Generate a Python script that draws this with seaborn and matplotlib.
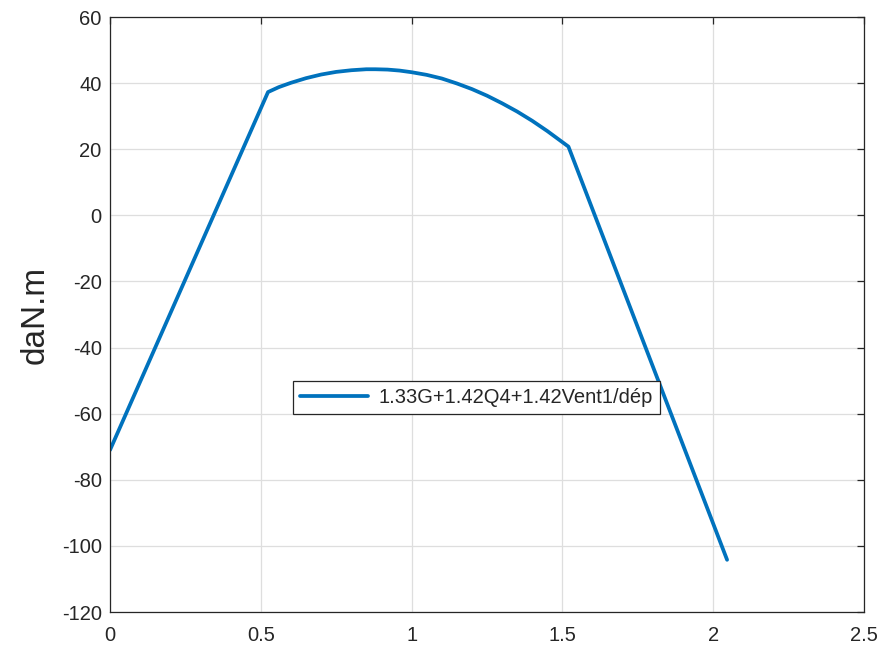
import numpy as np
import pandas as pd
import matplotlib
matplotlib.use("Agg")
import matplotlib.pyplot as plt
import seaborn as sns

# valeurs
abscisse = [0.0, 0.524, 0.56, 0.60, 0.65, 0.70, 0.75, 0.80, 0.85, 0.88, 0.92,
            0.96, 1.00, 1.05, 1.10, 1.15, 1.20, 1.25, 1.30, 1.35, 1.40, 1.45,
            1.52, 2.046]
moment = [-71.0, 37.3, 38.8, 40.1, 41.5, 42.6, 43.4, 43.9, 44.2, 44.2, 44.1,
          43.8, 43.3, 42.5, 41.4, 39.9, 38.2, 36.2, 33.9, 31.4, 28.6, 25.5,
          20.8, -104.2]
label_courbe = '1.33G+1.42Q4+1.42Vent1/dép'

xticks = [0, 0.5, 1, 1.5, 2, 2.5]
xlabels = ['0', '0.5', '1', '1.5', '2', '2.5']
yticks = [-120, -100, -80, -60, -40, -20, 0, 20, 40, 60]

df = pd.DataFrame({'x': abscisse, 'M': moment})

sns.set_style('white')
plt.rcParams['font.family'] = ['Liberation Sans', 'DejaVu Sans']
plt.rcParams['axes.unicode_minus'] = False

fig = plt.figure(figsize=(8.82, 6.52), dpi=100)
ax = fig.add_axes([0.1247, 0.0613, 0.8549, 0.9126])

sns.lineplot(data=df, x='x', y='M', sort=False, estimator=None, ax=ax,
             color='#0072BD', linewidth=2.7, label=label_courbe)

ax.set_xlim(0, 2.5)
ax.set_ylim(-120, 60)
ax.set_xticks(xticks)
ax.set_xticklabels(xlabels)
ax.set_yticks(yticks)
ax.grid(True, color='#dedede', linewidth=0.9)
ax.set_axisbelow(True)

for s in ax.spines.values():
    s.set_color('#262626')
    s.set_linewidth(0.9)

ax.tick_params(direction='in', top=True, right=True, length=5, width=0.9,
               color='#262626', labelcolor='#262626', labelsize=14.5, pad=6)
ax.tick_params(axis='x', pad=10)

ax.set_xlabel('')
ax.set_ylabel('daN.m', fontsize=24, color='#262626', labelpad=8)

leg = ax.legend(loc='center', bbox_to_anchor=(0.486, 0.361), fontsize=14.5,
                frameon=True, fancybox=False, framealpha=1, edgecolor='#262626',
                handlelength=3.4, borderpad=0.35, handletextpad=0.5)
leg.get_frame().set_linewidth(0.9)
for t in leg.get_texts():
    t.set_color('#262626')

fig.savefig('out.png', dpi=100)
